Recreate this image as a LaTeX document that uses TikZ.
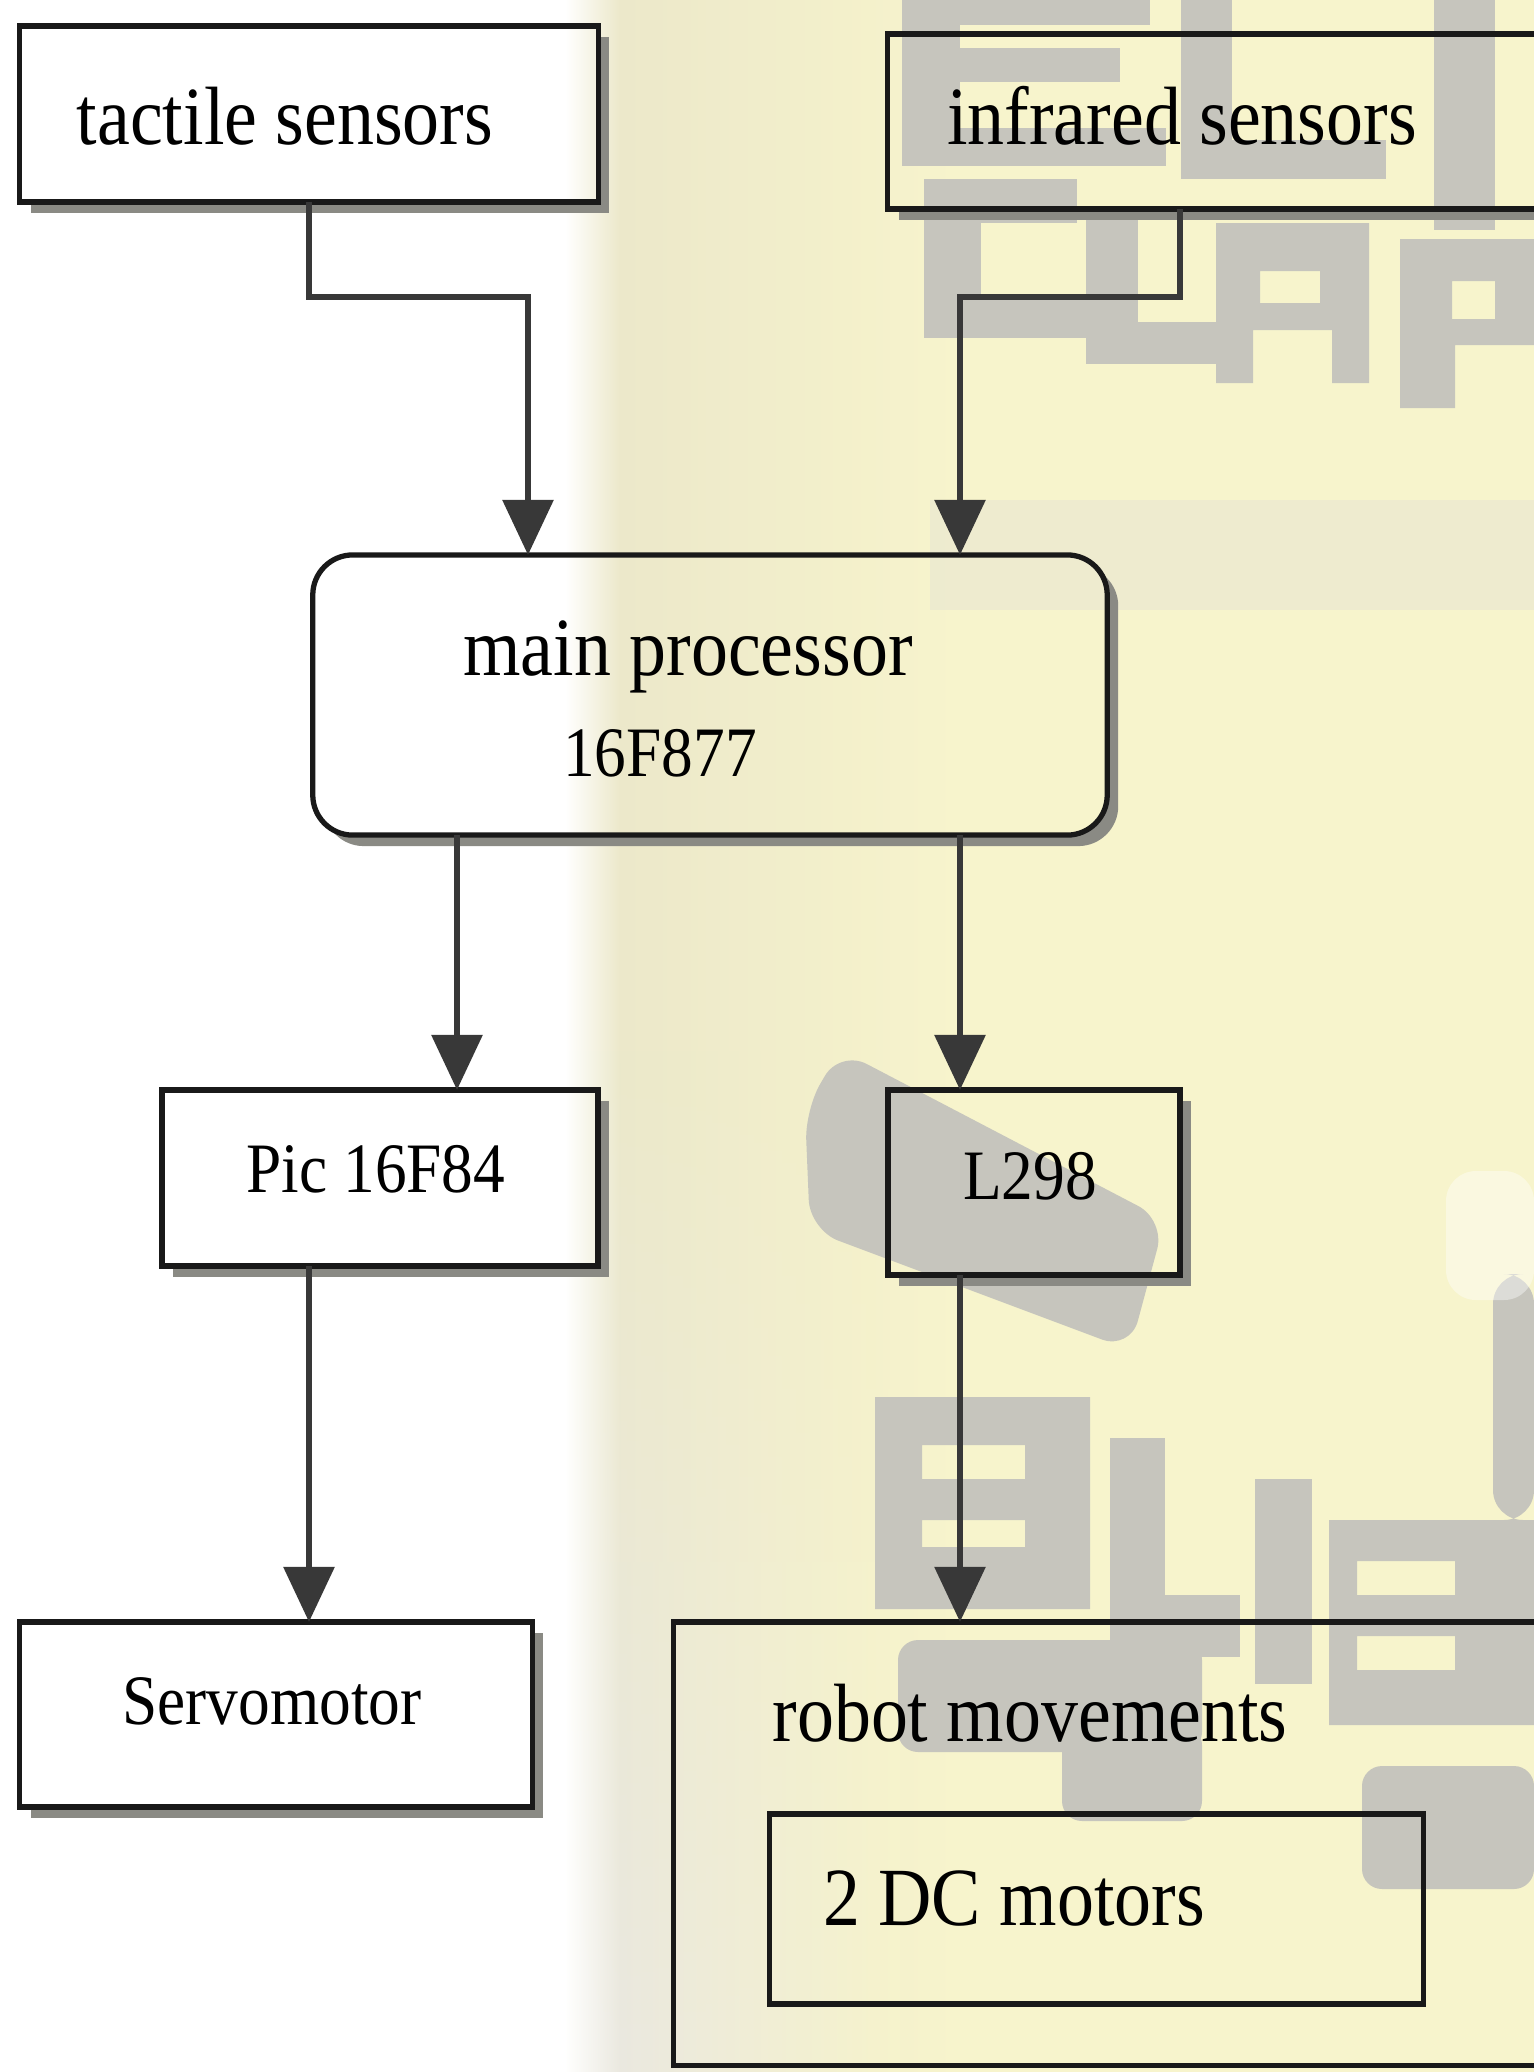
\documentclass[tikz,border=0pt]{standalone}
\usepackage{fontspec}
\setmainfont{Liberation Serif}
\usetikzlibrary{arrows.meta,fadings}
\definecolor{bgyel}{HTML}{F7F4CC}
\definecolor{bgbeige}{HTML}{ECE8CA}
\definecolor{bglow}{HTML}{EAE9E0}
\definecolor{bgband}{HTML}{E6E4D3}
\definecolor{letg}{HTML}{C6C5BD}
\definecolor{shadowc}{HTML}{8A8A84}
\newcommand{\tx}[1]{\scalebox{1}[1.12]{#1}}
\newcommand{\shd}{0.11cm}
\newcommand{\shadowof}[2][0pt]{%
  \begin{scope}[even odd rule, rounded corners=#1]
    \clip (-200,-200) rectangle (1900,2300)
      (#2.south west) rectangle (#2.north east);
    \fill[shadowc] ([shift={(\shd,-\shd)}]#2.south west) rectangle ([shift={(\shd,-\shd)}]#2.north east);
  \end{scope}}
\pgfdeclarelayer{bg}
\pgfdeclarelayer{shadowlayer}
\pgfsetlayers{bg,shadowlayer,main}
\begin{document}
\begin{tikzpicture}[x=0.01cm,y=-0.01cm,
  box/.style={draw=black!90, line width=1.5pt, inner sep=0pt, outer sep=0pt},
  lbl/.style={inner sep=0pt, font=\fontsize{21}{24}\selectfont},
  lbls/.style={inner sep=0pt, font=\fontsize{18}{21}\selectfont},
  conn/.style={draw=black!78, line width=1.7pt},
  arr/.style={conn, -{Triangle[width=0.5cm,length=0.55cm]}},
]
\useasboundingbox (0,0) rectangle (1534,2072);
\clip (0,0) rectangle (1534,2072);

% ---------- background (photo-like) ----------
\begin{pgfonlayer}{bg}
  \fill[white] (0,0) rectangle (1534,2072);
  \fill[bgyel] (620,0) rectangle (1534,2072);
  \shade[left color=white, right color=bgbeige] (565,0) rectangle (620,2072);
  \shade[left color=bgbeige, right color=bgyel] (620,0) rectangle (960,2072);
  \shade[left color=bglow, right color=bgyel, path fading=north] (620,1050) rectangle (900,2072);
  \shade[left color=white, right color=bglow, path fading=north] (565,1050) rectangle (620,2072);
  \fill[bgband, opacity=0.5] (930,500) rectangle (1534,610);
  \begin{scope}[letg]
    % top row letters
    \fill (902,0) rectangle (960,166);
    \fill (902,0) rectangle (1150,25);
    \fill (902,48) rectangle (1120,82);
    \fill (902,128) rectangle (1166,166);
    \fill (1181,0) rectangle (1232,179);
    \fill (1181,140) rectangle (1386,179);
    \fill (1434,0) rectangle (1495,230);
    % CLAP row
    \fill (924,179) rectangle (981,338);
    \fill (924,179) rectangle (1077,223);
    \fill (924,300) rectangle (1094,338);
    \fill (1086,217) rectangle (1138,364);
    \fill (1086,322) rectangle (1234,364);
    \fill[even odd rule] (1216,223) -- (1369,223) -- (1369,383) -- (1332,383) -- (1332,330) -- (1253,330) -- (1253,383) -- (1216,383) -- cycle
                         (1260,271) rectangle (1320,303);
    \fill[even odd rule] (1400,239) -- (1534,239) -- (1534,345) -- (1455,345) -- (1455,408) -- (1400,408) -- cycle
                         (1452,281) rectangle (1495,319);
    % blob near L298
    \fill[rounded corners=0.3cm] (805,1110) -- (840,1050) -- (1165,1220) -- (1130,1350) -- (810,1230) -- cycle;
    % right edge blob
    \fill[rounded corners=0.3cm] (1493,1274) -- (1534,1274) -- (1534,1520) -- (1493,1520) -- cycle;
    % BLIB row
    \fill[even odd rule] (875,1397) rectangle (1090,1609)
                         (922,1445) rectangle (1025,1479)
                         (922,1520) rectangle (1025,1547);
    \fill (1110,1438) rectangle (1165,1650);
    \fill (1110,1595) rectangle (1240,1657);
    \fill (1255,1479) rectangle (1312,1684);
    \fill[even odd rule] (1329,1520) rectangle (1534,1725)
                         (1357,1561) rectangle (1455,1595)
                         (1357,1636) rectangle (1455,1670);
    % second row below
    \fill[rounded corners=0.2cm] (898,1640) rectangle (1202,1752);
    \fill[rounded corners=0.2cm] (1062,1725) rectangle (1202,1821);
    \fill[rounded corners=0.2cm] (1362,1766) rectangle (1534,1889);
  \end{scope}
  \fill[white, opacity=0.4, rounded corners=0.3cm] (1446,1171) rectangle (1534,1300);
\end{pgfonlayer}

% ---------- boxes ----------
\node[box, minimum width=5.78cm, minimum height=1.76cm] (tac) at (309,114) {};
\node[box, minimum width=7.72cm, minimum height=1.75cm] (ir) at (1274,121.5) {};
\node[box, rounded corners=0.4cm, minimum width=7.94cm, minimum height=2.80cm] (main) at (710,695) {};
\node[box, minimum width=4.36cm, minimum height=1.76cm] (pic) at (380,1178) {};
\node[box, minimum width=2.92cm, minimum height=1.85cm] (l298) at (1034,1182.5) {};
\node[box, minimum width=5.12cm, minimum height=1.85cm] (servo) at (276,1714.5) {};
\node[box, minimum width=9.86cm, minimum height=4.43cm] (robot) at (1167,1843.5) {};
\node[box, minimum width=6.53cm, minimum height=1.90cm] (dc) at (1096.5,1909) {};

% ---------- shadows ----------
\begin{pgfonlayer}{shadowlayer}
  \shadowof{tac}
  \shadowof{ir}
  \shadowof[0.4cm]{main}
  \shadowof{pic}
  \shadowof{l298}
  \shadowof{servo}
\end{pgfonlayer}

% ---------- labels ----------
\node[lbl] (tactxt) at (285,116) {\tx{tactile sensors}};
\node[lbl] (irtxt) at (1182,116) {\tx{infrared sensors}};
\node[lbl] (maintxt1) at (688,657) {\tx{main processor}};
\node[lbls] (maintxt2) at (660,753) {\tx{16F877}};
\node[lbls] (pictxt) at (376,1169) {\tx{Pic 16F84}};
\node[lbls] (l298txt) at (1030,1176) {\tx{L298}};
\node[lbls] (servotxt) at (272,1701) {\tx{Servomotor}};
\node[lbl] (robottxt) at (1030,1713) {\tx{robot movements}};
\node[lbl] (dctxt) at (1014,1898) {\tx{2 DC motors}};

% ---------- connectors ----------
\coordinate (b1) at (528,297);
\coordinate (b2) at (1180,297);
\coordinate (b3) at (960,297);
\coordinate (d1) at (457,0);
\coordinate (d2) at (960,0);
\coordinate (d3) at (309,0);

\draw[arr] (tac.south) |- (b1) -- (b1 |- main.north);
\draw[arr] (ir.south -| b2) -- (b2) -- (b3) -- (b3 |- main.north);
\draw[arr] (main.south -| d1) -- (pic.north -| d1);
\draw[arr] (main.south -| d2) -- (l298.north -| d2);
\draw[arr] (pic.south -| d3) -- (servo.north -| d3);
\draw[arr] (l298.south -| d2) -- (robot.north -| d2);
\end{tikzpicture}
\end{document}
